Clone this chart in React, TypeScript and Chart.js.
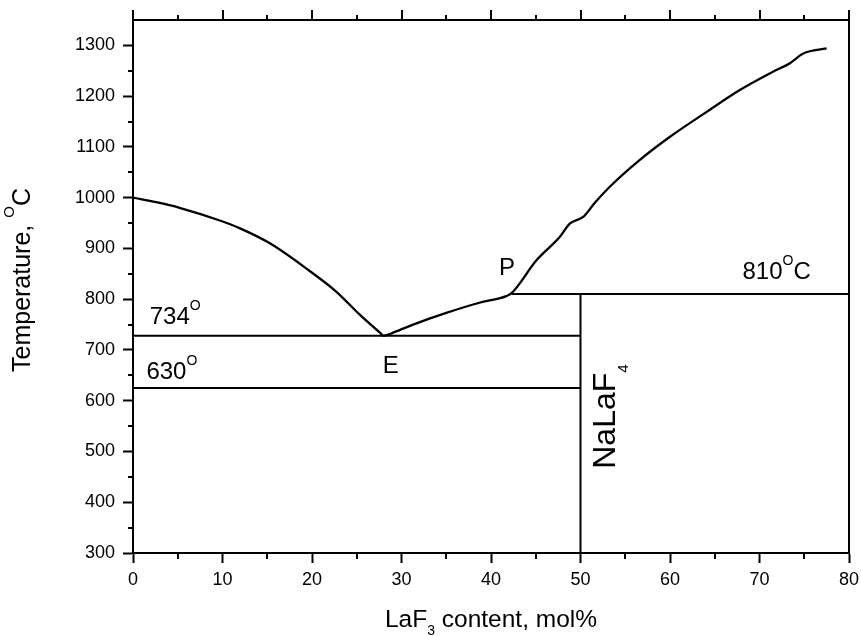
import React, { useEffect, useRef } from "react";
import { Chart, registerables } from "chart.js";
Chart.register(...registerables);

// Liquidus curve (LaF3 mol%, temperature °C)
const liquidusX = [0, 2.6, 5.2, 9.7, 11.9, 15.3, 19.7, 22.7, 25.3, 27.6, 28.0, 29.2, 31.3, 35.0, 38.7, 41.7, 42.3, 45.1, 47.7, 48.8, 50.3, 51.6, 53.3, 56.6, 60.0, 64.1, 67.8, 71.5, 73.4, 74.9, 77.5];
const liquidusY = [1000, 991, 980, 955, 940, 910, 856, 815, 770, 734, 728, 735, 750, 773, 793, 806, 812, 877, 923, 949, 962, 990, 1022, 1074, 1120, 1169, 1212, 1248, 1265, 1284, 1294];

// Isotherms and the compound line
const eutecticLineX = [0, 50];
const eutecticLineY = [728, 728];
const lowLineX = [0, 50];
const lowLineY = [625, 625];
const peritecticLineX = [42.3, 80];
const peritecticLineY = [810, 810];
const compoundLineX = [50, 50];
const compoundLineY = [300, 810];

// Axes
const xTicks = [0, 10, 20, 30, 40, 50, 60, 70, 80];
const xMinorTicks = [5, 15, 25, 35, 45, 55, 65, 75];
const yTicks = [300, 400, 500, 600, 700, 800, 900, 1000, 1100, 1200, 1300];
const yMinorTicks = [350, 450, 550, 650, 750, 850, 950, 1050, 1150, 1250];
const xMin = 0, xMax = 80, yMin = 300, yMax = 1350;

const FONT = '"Liberation Sans", Arial, sans-serif';

type Part = { text: string; size: number; dy?: number };

const annotations: { x: number; y: number; parts: Part[]; rotate?: boolean }[] = [
  { x: 1.87, y: 752, parts: [{ text: "734", size: 24 }, { text: "O", size: 14, dy: -14 }] },
  { x: 1.5, y: 642, parts: [{ text: "630", size: 24 }, { text: "O", size: 14, dy: -14 }] },
  { x: 27.9, y: 655, parts: [{ text: "E", size: 24 }] },
  { x: 40.9, y: 847, parts: [{ text: "P", size: 24 }] },
  { x: 68.1, y: 839, parts: [{ text: "810", size: 24 }, { text: "O", size: 14, dy: -14 }, { text: "C", size: 24 }] },
  { x: 53.8, y: 466, rotate: true, parts: [{ text: "NaLaF", size: 32 }, { text: "4", size: 15, dy: 13 }] },
];

const xTitle: Part[] = [{ text: "LaF", size: 24.5 }, { text: "3", size: 14, dy: 8 }, { text: " content, mol%", size: 24.5 }];
const yTitle: Part[] = [{ text: "Temperature, ", size: 25 }, { text: "O", size: 15, dy: -16 }, { text: "C", size: 25 }];

function measure(ctx: CanvasRenderingContext2D, parts: Part[]) {
  let w = 0;
  for (const p of parts) {
    ctx.font = `${p.size}px ${FONT}`;
    w += ctx.measureText(p.text).width;
  }
  return w;
}

function drawRich(ctx: CanvasRenderingContext2D, x: number, y: number, parts: Part[], rotate = false) {
  ctx.save();
  ctx.translate(x, y);
  if (rotate) ctx.rotate(-Math.PI / 2);
  ctx.fillStyle = "#000";
  ctx.textBaseline = "alphabetic";
  ctx.textAlign = "left";
  let cx = 0;
  for (const p of parts) {
    ctx.font = `${p.size}px ${FONT}`;
    ctx.fillText(p.text, cx, p.dy || 0);
    cx += ctx.measureText(p.text).width;
  }
  ctx.restore();
}

const decorPlugin = {
  id: "decor",
  afterDraw(chart: any) {
    const ctx: CanvasRenderingContext2D = chart.ctx;
    const { left, right, top, bottom } = chart.chartArea;
    const xs = chart.scales.x;
    const ys = chart.scales.y;
    ctx.save();
    ctx.strokeStyle = "#000";
    ctx.lineWidth = 2;
    ctx.strokeRect(left, top, right - left, bottom - top);
    ctx.beginPath();
    for (const v of xMinorTicks) {
      const px = Math.round(xs.getPixelForValue(v));
      ctx.moveTo(px, bottom);
      ctx.lineTo(px, bottom + 6);
      ctx.moveTo(px, top);
      ctx.lineTo(px, top - 5);
    }
    for (const v of xTicks) {
      const px = Math.round(xs.getPixelForValue(v));
      ctx.moveTo(px, top);
      ctx.lineTo(px, top - 10);
    }
    for (const v of yMinorTicks) {
      const py = Math.round(ys.getPixelForValue(v));
      ctx.moveTo(left, py);
      ctx.lineTo(left - 5, py);
    }
    ctx.stroke();
    ctx.restore();

    for (const a of annotations) {
      drawRich(ctx, xs.getPixelForValue(a.x), ys.getPixelForValue(a.y), a.parts, a.rotate);
    }
    const cxMid = (left + right) / 2;
    const wX = measure(ctx, xTitle);
    drawRich(ctx, cxMid - wX / 2, 627, xTitle);
    drawRich(ctx, 30, 372, yTitle, true);
  },
};

function toPoints(xs: number[], ys: number[]) {
  return xs.map((x, i) => ({ x, y: ys[i] }));
}

export default function App() {
  const ref = useRef<HTMLCanvasElement | null>(null);
  useEffect(() => {
    if (!ref.current) return;
    const lineDs = (xs: number[], ys: number[], smooth = false) => ({
      data: toPoints(xs, ys),
      showLine: true,
      borderColor: "#000",
      borderWidth: smooth ? 2.3 : 2,
      pointRadius: 0,
      tension: smooth ? 0.4 : 0,
      cubicInterpolationMode: smooth ? "monotone" : "default",
      fill: false,
    });
    const chart = new Chart(ref.current, {
      type: "scatter",
      data: {
        datasets: [
          lineDs(liquidusX, liquidusY, true),
          lineDs(eutecticLineX, eutecticLineY),
          lineDs(lowLineX, lowLineY),
          lineDs(peritecticLineX, peritecticLineY),
          lineDs(compoundLineX, compoundLineY),
        ] as any,
      },
      options: {
        animation: false,
        responsive: true,
        maintainAspectRatio: false,
        layout: { padding: { top: 20, right: 12, left: 0, bottom: 0 } },
        plugins: { legend: { display: false }, tooltip: { enabled: false } },
        scales: {
          x: {
            type: "linear",
            min: xMin,
            max: xMax,
            afterBuildTicks: (s: any) => { s.ticks = xTicks.map((v) => ({ value: v })); },
            afterFit: (s: any) => { s.height = 83; s.paddingLeft = 0; s.paddingRight = 0; },
            grid: { drawOnChartArea: false, drawTicks: true, tickLength: 10, tickWidth: 2, tickColor: "#000" },
            border: { display: true, width: 2, color: "#000" },
            ticks: { color: "#000", font: { size: 18, family: FONT }, padding: 6, maxRotation: 0, autoSkip: false, callback: (v: any) => String(v) },
          },
          y: {
            type: "linear",
            min: yMin,
            max: yMax,
            afterBuildTicks: (s: any) => { s.ticks = yTicks.map((v) => ({ value: v })); },
            afterFit: (s: any) => { s.width = 133; s.paddingTop = 0; s.paddingBottom = 0; },
            grid: { drawOnChartArea: false, drawTicks: true, tickLength: 10, tickWidth: 2, tickColor: "#000" },
            border: { display: true, width: 2, color: "#000" },
            ticks: { color: "#000", font: { size: 18, family: FONT }, padding: 8, autoSkip: false, callback: (v: any) => String(v) },
          },
        },
      },
      plugins: [decorPlugin],
    });
    return () => chart.destroy();
  }, []);
  return (
    <div style={{ position: "fixed", left: 0, top: 0, width: 861, height: 636, background: "#fff" }}>
      <canvas ref={ref} />
    </div>
  );
}
